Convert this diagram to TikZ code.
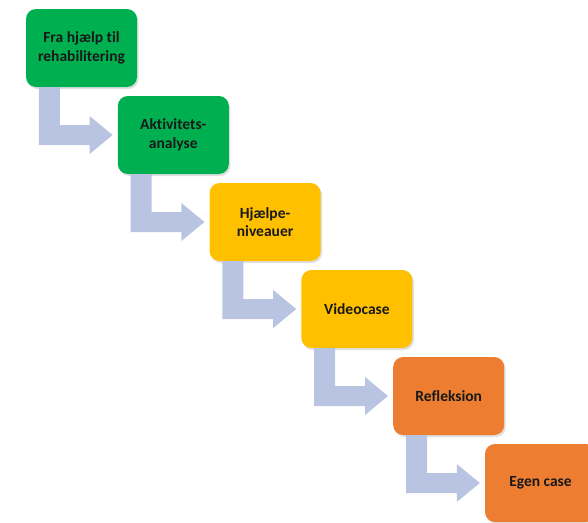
\documentclass[tikz,border=0pt]{standalone}
\usepackage{fontspec}
\setmainfont[RawFeature=-liga]{Carlito}
\usetikzlibrary{calc,shadows}
\definecolor{stepgreen}{HTML}{00B050}
\definecolor{stepyellow}{HTML}{FFC000}
\definecolor{steporange}{HTML}{ED7D31}
\definecolor{bentblue}{HTML}{B8C4E2}
\begin{document}
\begin{tikzpicture}[x=1pt,y=1pt,line join=miter]
			\tikzset{stepbox/.style={rounded corners=10pt,minimum width=111pt,minimum height=78pt,align=center,
				font=\fontsize{15.5}{18.5}\selectfont\bfseries,text=black!90,
				drop shadow={opacity=0.25,shadow xshift=1.5pt,shadow yshift=-2pt}},
				bent/.style={fill=bentblue,draw=none}}
			\useasboundingbox (0,0) rectangle (588,-522);
			\clip (0,0) rectangle (588,-522);
			\foreach \i/\txt/\col in {1/{Fra hjælp til\\rehabilitering}/stepgreen,2/{Aktivitets-\\analyse}/stepgreen,
				3/{Hjælpe-\\niveauer}/stepyellow,4/{Videocase}/stepyellow,5/{Refleksion}/steporange,6/{Egen case}/steporange}
			\node[stepbox,fill=\col] (b\i) at ({81.5+91.8*(\i-1)},{-48-87*(\i-1)}) {\txt};
			\foreach \i/\j in {1/2,2/3,3/4,4/5,5/6}
			\path[bent] ($(b\i.south west)+(13,0)$) coordinate (s\i)
				($(b\j.west)+(-5,0)$) coordinate (t\i)
				(s\i) -- ($(s\i |- t\i)+(0,-10)$) -- ($(t\i)+(-23,-10)$) -- ($(t\i)+(-23,-19)$) -- (t\i)
				-- ($(t\i)+(-23,19)$) -- ($(t\i)+(-23,10)$) -- ($(s\i |- t\i)+(21,10)$) -- ($(s\i)+(21,0)$) -- cycle;
			\end{tikzpicture}
\end{document}
